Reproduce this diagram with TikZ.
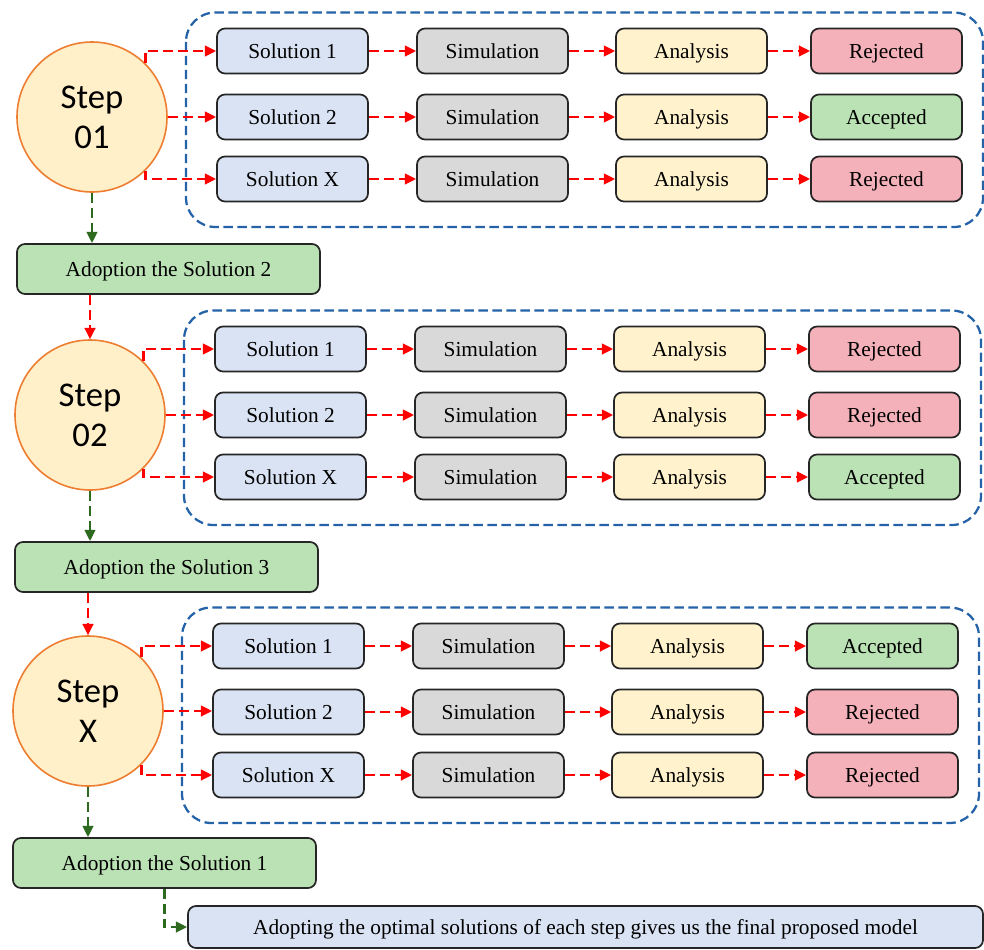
\documentclass[tikz,border=0pt]{standalone}
\usepackage{fontspec}
\setmainfont{Liberation Serif}
\newfontfamily\stepfont{Carlito}
\usetikzlibrary{arrows.meta}
\definecolor{solblue}{HTML}{DAE3F3}
\definecolor{simgray}{HTML}{D9D9D9}
\definecolor{anayel}{HTML}{FFF2CC}
\definecolor{rejpink}{HTML}{F4B1BA}
\definecolor{accgreen}{HTML}{BBE2B4}
\definecolor{circfill}{HTML}{FFF0C9}
\definecolor{circline}{HTML}{ED7D31}
\definecolor{contblue}{HTML}{2563A8}
\definecolor{grnline}{HTML}{2D6A1F}
\begin{document}
\begin{tikzpicture}[x=0.75pt,y=-0.75pt,
  box/.style={draw=black!85, line width=1.3pt, rounded corners=6pt,
    minimum width=113.25pt, minimum height=33.75pt, inner sep=0pt,
    text height=12pt, text depth=0.5pt,
    font=\fontsize{16}{19}\selectfont},
  adopt/.style={box, fill=accgreen, minimum width=227.25pt, minimum height=37.5pt},
  stepc/.style={circle, draw=circline, line width=1.2pt, fill=circfill,
    minimum size=112.5pt, inner sep=0pt, align=center,
    font=\stepfont\fontsize{26}{30}\selectfont},
  redarr/.style={draw=red, line width=1.9pt, dash pattern=on 7.5pt off 3.75pt,
    -{Triangle[length=8.5pt,width=8pt]}},
  grnarr/.style={draw=grnline, line width=1.9pt, dash pattern=on 7.5pt off 3.75pt,
    -{Triangle[length=8.5pt,width=8pt]}},
  cont/.style={draw=contblue, line width=1.7pt, dash pattern=on 7pt off 3.5pt,
    rounded corners=22pt}
]
\useasboundingbox (0,0) rectangle (984,949);
\foreach \k/\dx/\cy/\ra/\rb/\rc/\rA/\rB/\rC/\cA/\cB/\cC/\sl/\an in {
  1/0/117/51/117/179/Rejected/Accepted/Rejected/rejpink/accgreen/rejpink/01/2,
  2/-2/415/349/415/477/Rejected/Rejected/Accepted/rejpink/rejpink/accgreen/02/3,
  3/-4/711/646/712/775/Accepted/Rejected/Rejected/accgreen/rejpink/rejpink/X/1}
{
  \draw[cont] ({186+\dx},{\ra-38.5}) rectangle ({983+\dx},{\rc+48});
  \node[stepc] (s\k) at ({92+\dx},\cy) {Step\\\sl};
  \foreach \r/\i/\sn/\res/\col in {\ra/1/1/\rA/\cA, \rb/2/2/\rB/\cB, \rc/3/X/\rC/\cC} {
    \node[box,fill=solblue] (a\k\i) at ({292.5+\dx},\r) {Solution \sn};
    \node[box,fill=simgray] (b\k\i) at ({492.5+\dx},\r) {Simulation};
    \node[box,fill=anayel] (c\k\i) at ({691.5+\dx},\r) {Analysis};
    \node[box,fill=\col] (d\k\i) at ({886.5+\dx},\r) {\res};
    \draw[redarr] (a\k\i) -- (b\k\i);
    \draw[redarr] (b\k\i) -- (c\k\i);
    \draw[redarr] (c\k\i) -- (d\k\i);
  }
  \draw[redarr] (s\k.45) |- (a\k1.west);
  \draw[redarr] (s\k.east) -- (s\k.east -| a\k2.west);
  \draw[redarr] (s\k.-45) |- (a\k3.west);
  \node[adopt] (ad\k) at ({168.5+\dx},{\cy+152}) {Adoption the Solution \an};
  \draw[grnarr] (s\k.south) -- (s\k.south |- ad\k.north);
}
\draw[redarr] (s2.north |- ad1.south) -- (s2.north);
\draw[redarr] (s3.north |- ad2.south) -- (s3.north);
\node[box, fill=solblue, minimum width=596.25pt, minimum height=31.5pt] (fin) at (585.5,927)
  {Adopting the optimal solutions of each step gives us the final proposed model};
\draw[grnarr] (ad3.south) |- (fin.west);
\end{tikzpicture}
\end{document}
